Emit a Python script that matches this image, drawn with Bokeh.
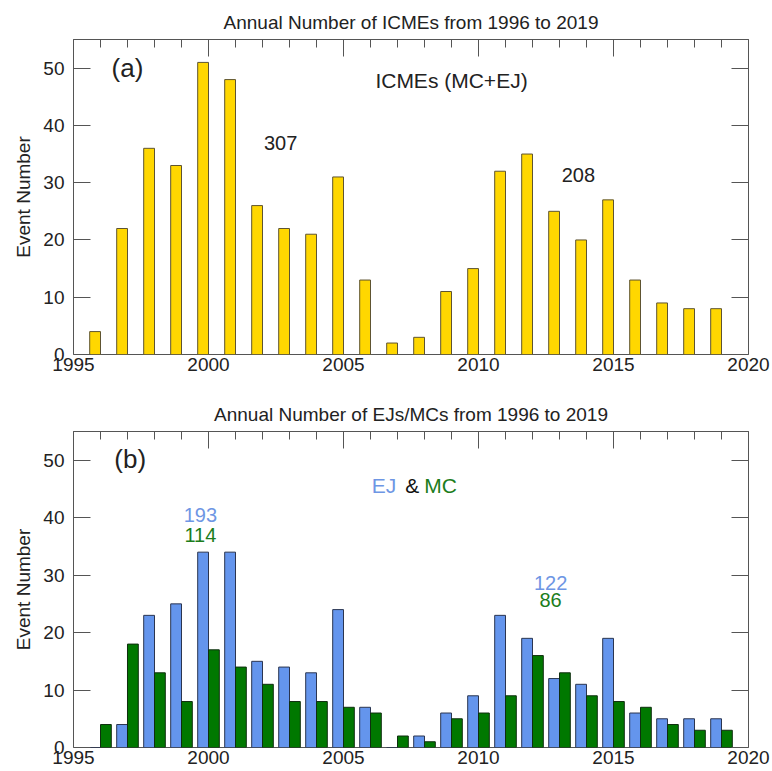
from bokeh.plotting import figure
from bokeh.models import LinearAxis, SingleIntervalTicker, ColumnDataSource, Label, Range1d
from bokeh.transform import dodge
from bokeh.layouts import column
from bokeh.embed import file_html
from bokeh.resources import INLINE

# ---- data ----
years = list(range(1996, 2020))
icme = [4, 22, 36, 33, 51, 48, 26, 22, 21, 31, 13, 2, 3, 11, 15, 32, 35, 25, 20, 27, 13, 9, 8, 8]
ej = [0, 4, 23, 25, 34, 34, 15, 14, 13, 24, 7, 0, 2, 6, 9, 23, 19, 12, 11, 19, 6, 5, 5, 5]
mc = [4, 18, 13, 8, 17, 14, 11, 8, 8, 7, 6, 2, 1, 5, 6, 9, 16, 13, 9, 8, 7, 4, 3, 3]
split_year = 2007  # cycle totals: 1996-2006 and 2007-2019

FONT = "Liberation Sans"
FRAME = "#555555"
YELLOW = "#FFD700"
BLUE = "#6495ED"
GREEN = "#007800"
TXT_BLUE = "#6e96e4"
TXT_GREEN = "#1c7d1c"


def cycle_sums(vals):
    a = sum(v for y, v in zip(years, vals) if y < split_year)
    b = sum(v for y, v in zip(years, vals) if y >= split_year)
    return a, b


src = ColumnDataSource(dict(year=years, icme=icme, ej=ej, mc=mc))


def make_fig(title, height, top_border, bottom_border, title_standoff, title_valign):
    p = figure(width=770, height=height, x_range=Range1d(1995, 2020), y_range=Range1d(0, 55),
               output_backend="svg", toolbar_location=None, title=title,
               x_axis_location=None, y_axis_location=None,
               min_border_left=73, min_border_right=22, min_border_top=top_border,
               min_border_bottom=bottom_border)
    p.grid.visible = False
    p.outline_line_color = FRAME
    p.outline_line_width = 1
    p.background_fill_color = "white"
    p.border_fill_color = "white"
    p.title.align = "center"
    p.title.vertical_align = title_valign
    p.title.text_font = FONT
    p.title.text_font_size = "19px"
    p.title.text_font_style = "normal"
    p.title.text_color = "#222222"
    p.title.standoff = title_standoff

    bottom = LinearAxis(ticker=SingleIntervalTicker(interval=5, num_minor_ticks=0),
                        major_tick_in=0, major_tick_out=0, minor_tick_in=0, minor_tick_out=0,
                        axis_line_color=None, major_label_standoff=3,
                        major_label_text_font=FONT, major_label_text_font_size="19px",
                        major_label_text_color="#222222")
    top = LinearAxis(ticker=SingleIntervalTicker(interval=5, num_minor_ticks=5),
                     major_tick_in=17, major_tick_out=0, minor_tick_in=8, minor_tick_out=0,
                     major_tick_line_color=FRAME, minor_tick_line_color=FRAME,
                     axis_line_color=None, major_label_standoff=0,
                     major_label_text_font_size="1px", major_label_text_color=None)
    left = LinearAxis(ticker=SingleIntervalTicker(interval=10, num_minor_ticks=0),
                      major_tick_in=17, major_tick_out=0, minor_tick_in=0, minor_tick_out=0,
                      major_tick_line_color=FRAME, axis_line_color=None,
                      major_label_standoff=9,
                      major_label_text_font=FONT, major_label_text_font_size="19px",
                      major_label_text_color="#222222",
                      axis_label="Event Number", axis_label_standoff=6,
                      axis_label_text_font=FONT, axis_label_text_font_size="19px",
                      axis_label_text_font_style="normal", axis_label_text_color="#222222")
    right = LinearAxis(ticker=SingleIntervalTicker(interval=10, num_minor_ticks=0),
                       major_tick_in=17, major_tick_out=0, minor_tick_in=0, minor_tick_out=0,
                       major_tick_line_color=FRAME, axis_line_color=None,
                       major_label_standoff=0, major_label_text_font_size="1px",
                       major_label_text_color=None)
    p.add_layout(bottom, "below")
    p.add_layout(top, "above")
    p.add_layout(left, "left")
    p.add_layout(right, "right")
    return p


def lab(p, x, y, text, size, color="#222222"):
    p.add_layout(Label(x=x, y=y, text=text, text_align="center", text_baseline="middle",
                       text_font=FONT, text_font_size=size, text_color=color))


# ---- panel (a) ----
p1 = make_fig("Annual Number of ICMEs from 1996 to 2019", 374, 39, 20, 10, "top")
p1.vbar(x=dodge("year", -0.2, range=p1.x_range), top="icme", width=0.4, source=src,
        fill_color=YELLOW, line_color="#5e5431", line_width=1)
ic1, ic2 = cycle_sums(icme)
lab(p1, 1997.0, 50, "(a)", "26px")
lab(p1, 2009.0, 47.8, "ICMEs (MC+EJ)", "21px")
lab(p1, 2002.67, 37.0, str(ic1), "20px")
lab(p1, 2013.7, 31.4, str(ic2), "20px")

# ---- panel (b) ----
p2 = make_fig("Annual Number of EJs/MCs from 1996 to 2019", 396, 57, 23, 14, "bottom")
p2.vbar(x=dodge("year", -0.2, range=p2.x_range), top="ej", width=0.4, source=src,
        fill_color=BLUE, line_color="#2b3550", line_width=1)
p2.vbar(x=dodge("year", 0.2, range=p2.x_range), top="mc", width=0.4, source=src,
        fill_color=GREEN, line_color="#0f2e0f", line_width=1)
ej1, ej2 = cycle_sums(ej)
mc1, mc2 = cycle_sums(mc)
lab(p2, 1997.1, 50.2, "(b)", "26px")
lab(p2, 2006.5, 45.6, "EJ", "21px", TXT_BLUE)
lab(p2, 2007.55, 45.6, "&", "21px", "#111111")
lab(p2, 2008.6, 45.6, "MC", "21px", TXT_GREEN)
lab(p2, 1999.7, 40.4, str(ej1), "20px", TXT_BLUE)
lab(p2, 1999.7, 37.0, str(mc1), "20px", TXT_GREEN)
lab(p2, 2012.67, 28.7, str(ej2), "20px", TXT_BLUE)
lab(p2, 2012.67, 25.6, str(mc2), "20px", TXT_GREEN)

layout = column(p1, p2)
open("out.html", "w").write(file_html(layout, INLINE))
